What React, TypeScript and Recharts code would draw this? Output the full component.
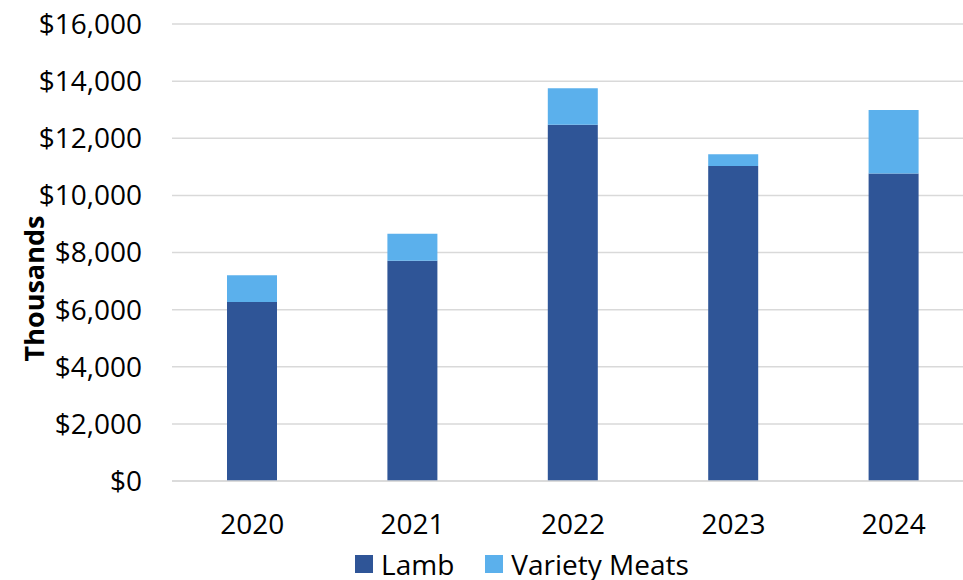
import React from 'react';
import { BarChart, Bar, XAxis, YAxis, CartesianGrid, Legend } from 'recharts';

const years = ['2020', '2021', '2022', '2023', '2024'];
const lamb = [6270, 7710, 12470, 11030, 10770];
const varietyMeats = [930, 950, 1280, 410, 2220];
const yTicks = [0, 2000, 4000, 6000, 8000, 10000, 12000, 14000, 16000];

const data = years.map((year, i) => ({ year, lamb: lamb[i], variety: varietyMeats[i] }));

const FONT = '"Open Sans", sans-serif';
const LAMB_COLOR = '#2F5597';
const VARIETY_COLOR = '#5BB0EC';

const legendItems = [
  { label: 'Lamb', color: LAMB_COLOR },
  { label: 'Variety Meats', color: VARIETY_COLOR },
];

function LegendContent() {
  return (
    <div
      style={{
        display: 'flex',
        justifyContent: 'center',
        alignItems: 'center',
        gap: 31,
        paddingTop: 9,
        lineHeight: '28px',
        transform: 'translateX(35px)',
        fontFamily: FONT,
        fontSize: 28,
        color: '#000',
      }}
    >
      {legendItems.map((item) => (
        <div key={item.label} style={{ display: 'flex', alignItems: 'center', gap: 8 }}>
          <span style={{ width: 18, height: 18, background: item.color, display: 'inline-block' }} />
          <span>{item.label}</span>
        </div>
      ))}
    </div>
  );
}

function AxisTitle(props: any) {
  const vb = props.viewBox || { x: 0, y: 0, width: 0, height: 0 };
  const cx = 33;
  const cy = vb.y + vb.height / 2 + 36;
  return (
    <text
      x={cx}
      y={cy}
      transform={`rotate(-90, ${cx}, ${cy})`}
      textAnchor="middle"
      dominantBaseline="central"
      fontFamily={FONT}
      fontSize={27}
      fontWeight={700}
      fill="#000"
    >
      Thousands
    </text>
  );
}

export default function App() {
  return (
    <div style={{ position: 'absolute', left: 0, top: 0, width: 963, height: 580, overflow: 'hidden', background: '#fff' }}>
      <BarChart
        width={974}
        height={580}
        data={data}
        margin={{ top: 24, right: 0, left: 0, bottom: 0 }}
      >
        <CartesianGrid vertical={false} stroke="#D9D9D9" strokeWidth={1.5} />
        <XAxis
          dataKey="year"
          axisLine={{ stroke: '#D9D9D9', strokeWidth: 1.5 }}
          tickLine={false}
          tickSize={0}
          tickMargin={33}
          height={60}
          tick={{ fill: '#000', fontSize: 28, fontFamily: FONT }}
        />
        <YAxis
          width={172}
          domain={[0, 16000]}
          ticks={yTicks}
          axisLine={false}
          tickLine={false}
          tickSize={0}
          tickMargin={30}
          tick={{ fill: '#000', fontSize: 28, fontFamily: FONT }}
          tickFormatter={(v: number) => `$${v.toLocaleString('en-US')}`}
          label={<AxisTitle />}
        />
        <Legend verticalAlign="bottom" height={39} content={<LegendContent />} />
        <Bar dataKey="lamb" name="Lamb" stackId="a" fill={LAMB_COLOR} barSize={50} isAnimationActive={false} />
        <Bar dataKey="variety" name="Variety Meats" stackId="a" fill={VARIETY_COLOR} barSize={50} isAnimationActive={false} />
      </BarChart>
    </div>
  );
}
